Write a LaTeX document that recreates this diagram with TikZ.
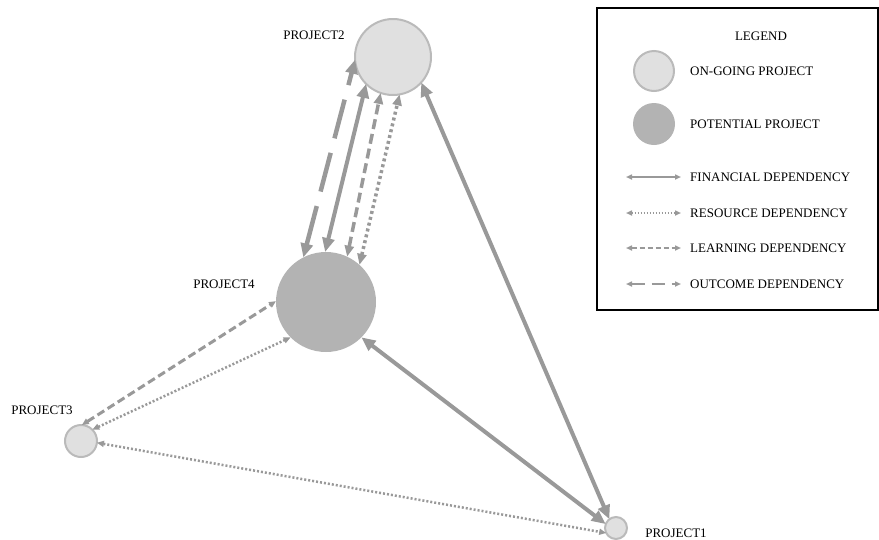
\documentclass[tikz,border=0pt]{standalone}
\usepackage{fontspec}
\setmainfont{Liberation Serif}
\usetikzlibrary{arrows.meta}
\definecolor{linegray}{HTML}{999999}
\definecolor{ongoing}{HTML}{E0E0E0}
\definecolor{ongoingrim}{HTML}{BABABA}
\definecolor{potential}{HTML}{B3B3B3}

\begin{document}
\begin{tikzpicture}[x=1pt,y=-1pt,
  ongoingproj/.style={circle, fill=ongoing, draw=ongoingrim, line width=2pt, inner sep=0pt, outer sep=0pt},
  potentialproj/.style={circle, fill=potential, inner sep=0pt, outer sep=0pt},
  txt/.style={font=\fontsize{13}{15}\selectfont, inner sep=0pt},
  bighead/.style={{Triangle[length=14pt,width=12pt]}-{Triangle[length=14pt,width=12pt]}},
  midhead/.style={{Triangle[length=11pt,width=9pt]}-{Triangle[length=11pt,width=9pt]}},
  smallhead/.style={{Triangle[length=7pt,width=6pt]}-{Triangle[length=7pt,width=6pt]}},
  legendhead/.style={{Triangle[length=6pt,width=5pt]}-{Triangle[length=6pt,width=5pt]}},
  financial/.style={draw=linegray, line width=4pt},
  resource/.style={draw=linegray, line width=3.5pt, dash pattern=on 3pt off 3pt},
  learning/.style={draw=linegray, line width=3.5pt, dash pattern=on 10pt off 5pt},
  outcome/.style={draw=linegray, line width=4.5pt, dash pattern=on 40pt off 15pt},
]
\useasboundingbox (0,0) rectangle (879,539);

% projects
\node[ongoingproj, minimum size=76pt] (p2) at (393,57) {};
\node[potentialproj, minimum size=100pt] (p4) at (326,302) {};
\node[ongoingproj, minimum size=32pt] (p3) at (81,441) {};
\node[ongoingproj, minimum size=22pt] (p1) at (616,528) {};

\node[txt] at (314,35) {PROJECT2};
\node[txt] at (224,284) {PROJECT4};
\node[txt] at (42,410) {PROJECT3};
\node[txt] at (676,533) {PROJECT1};

% dependencies between project 2 and project 4
\draw[outcome, bighead] (p4.117) -- (p2.184);
\draw[financial, bighead] (p4.91) -- (p2.225);
\draw[learning, midhead] (p4.65) -- (p2.251);
\draw[resource, midhead] (p4.48) -- (p2.280);

% the rest
\draw[financial, bighead] (p2.318) -- (p1.127);
\draw[financial, bighead] (p4.315) -- (p1.159);
\draw[learning, line width=3pt, dash pattern=on 8pt off 4pt, smallhead] (p3.87) -- (p4.179);
\draw[resource, line width=2.5pt, dash pattern=on 2pt off 2pt, smallhead] (p3.45) -- (p4.225);
\draw[resource, line width=2.5pt, dash pattern=on 2pt off 2pt, smallhead] (p3.354) -- (p1.207);

% legend
\draw[black, line width=1.5pt] (597,8) rectangle (878,310);
\node[txt] (legend) at (761,36) {LEGEND};
\node[ongoingproj, minimum size=40pt] (lgongoing) at (654,71) {};
\node[potentialproj, minimum size=42pt] (lgpotential) at (654,124) {};
\node[txt, anchor=west] at (690,71) {ON-GOING PROJECT};
\node[txt, anchor=west] at (690,124) {POTENTIAL PROJECT};

\foreach \y/\name in {177/FINANCIAL,213/RESOURCE,248/LEARNING,284/OUTCOME} {
    \coordinate (a\name) at (626,\y);
    \coordinate (b\name) at (681,\y);
    \node[txt, anchor=west] at (690,\y) {\name\ DEPENDENCY};
}
\draw[financial, line width=2pt, legendhead] (aFINANCIAL) -- (bFINANCIAL);
\draw[resource, line width=2pt, dash pattern=on 1.5pt off 1.5pt, legendhead] (aRESOURCE) -- (bRESOURCE);
\draw[learning, line width=2pt, dash pattern=on 5pt off 3pt, legendhead] (aLEARNING) -- (bLEARNING);
\draw[outcome, line width=2pt, dash pattern=on 13pt off 7pt, legendhead] (aOUTCOME) -- (bOUTCOME);
\end{tikzpicture}
\end{document}
